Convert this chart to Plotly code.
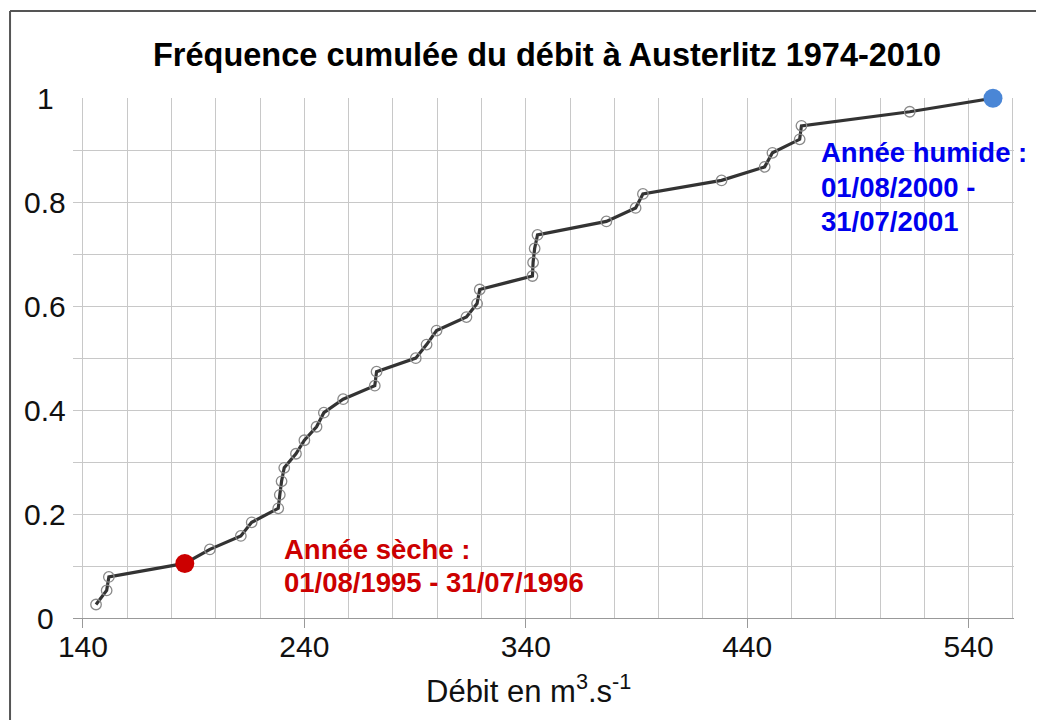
import plotly.graph_objects as go

# Data
debit = [145.9, 150.7, 151.7, 186.0, 197.3, 211.3, 216.2, 228.2, 228.9, 229.7,
         230.9, 236.2, 240.0, 245.5, 248.8, 257.5, 271.8, 272.6, 290.3, 295.2,
         299.7, 313.2, 318.0, 319.2, 343.0, 343.3, 344.0, 345.3, 376.4, 389.6,
         392.9, 428.4, 447.9, 451.4, 463.7, 464.5, 513.4, 551.0]
freq = [0.026, 0.053, 0.079, 0.105, 0.132, 0.158, 0.184, 0.211, 0.237, 0.263,
        0.289, 0.316, 0.342, 0.368, 0.395, 0.421, 0.447, 0.474, 0.500, 0.526,
        0.553, 0.579, 0.605, 0.632, 0.658, 0.684, 0.711, 0.737, 0.763, 0.789,
        0.816, 0.842, 0.868, 0.895, 0.921, 0.947, 0.974, 1.000]
dry_index = 3
wet_index = 37
x_tickvals = [140, 240, 340, 440, 540]
x_ticktext = ["140", "240", "340", "440", "540"]
y_tickvals = [0, 0.2, 0.4, 0.6, 0.8, 1]
y_ticktext = ["0", "0.2", "0.4", "0.6", "0.8", "1"]
title_text = "Fréquence cumulée du débit à Austerlitz 1974-2010"
x_title = "Débit en m<sup>3</sup>.s<sup>-1</sup>"
dry_lines = ["Année sèche :", "01/08/1995 - 31/07/1996"]
wet_lines = ["Année humide :", "01/08/2000 -", "31/07/2001"]

OFF = 8  # page body margin in the browser
W, H = 1044 - OFF, 720 - OFF
L, T = 73 - OFF, 98 - OFF
R = W - (1014.5 - OFF)
B = H - (618 - OFF)
pw = W - L - R
ph = H - T - B

def px(xp):
    return (xp - OFF - L) / pw

def py(yp):
    return (H - B - (yp - OFF)) / ph

FONT = "Liberation Sans, Arial, sans-serif"

fig = go.Figure()
fig.add_trace(go.Scatter(
    x=debit, y=freq, mode="lines+markers",
    line=dict(color="#333333", width=3.2),
    marker=dict(symbol="circle-open", size=10.5, color="#8a8a8a", line=dict(width=1.3)),
    cliponaxis=False, showlegend=False, hoverinfo="x+y"))
fig.add_trace(go.Scatter(
    x=[debit[dry_index]], y=[freq[dry_index]], mode="markers",
    marker=dict(size=19, color="#cc0000"), cliponaxis=False, showlegend=False))
fig.add_trace(go.Scatter(
    x=[debit[wet_index]], y=[freq[wet_index]], mode="markers",
    marker=dict(size=19, color="#4a86d6"), cliponaxis=False, showlegend=False))

annotations = []
for v, t in zip(y_tickvals, y_ticktext):
    annotations.append(dict(xref="paper", yref="y", x=px(45), y=v, text=t,
                            showarrow=False, xanchor="center", yanchor="middle",
                            font=dict(family=FONT, size=30, color="#111111")))
for t, yc in zip(dry_lines, [549, 582.5]):
    annotations.append(dict(xref="paper", yref="paper", x=px(282), y=py(yc),
                            text="<b>" + t + "</b>", showarrow=False,
                            xanchor="left", yanchor="middle",
                            font=dict(family=FONT, size=27.5, color="#cc0000")))
for t, yc in zip(wet_lines, [153, 187.5, 221]):
    annotations.append(dict(xref="paper", yref="paper", x=px(819), y=py(yc),
                            text="<b>" + t + "</b>", showarrow=False,
                            xanchor="left", yanchor="middle",
                            font=dict(family=FONT, size=27.5, color="#0000ee")))
annotations.append(dict(xref="paper", yref="paper", x=px(547), y=py(55),
                        text="<b>" + title_text + "</b>", showarrow=False,
                        xanchor="center", yanchor="middle",
                        font=dict(family=FONT, size=32.5, color="#000000")))
annotations.append(dict(xref="paper", yref="paper", x=px(529), y=py(689),
                        text=x_title, showarrow=False,
                        xanchor="center", yanchor="middle",
                        font=dict(family=FONT, size=31, color="#111111")))

fig.update_layout(
    width=W, height=H,
    margin=dict(l=L, r=R, t=T, b=B),
    paper_bgcolor="white", plot_bgcolor="white",
    annotations=annotations,
    shapes=[
        dict(type="line", xref="paper", yref="paper", x0=px(10), x1=px(10),
             y0=py(11), y1=py(725), line=dict(color="#555555", width=2)),
        dict(type="line", xref="paper", yref="paper", x0=px(10), x1=px(1050),
             y0=py(11), y1=py(11), line=dict(color="#555555", width=2)),
    ],
    xaxis=dict(range=[135.5, 560.5], tickmode="array", tickvals=x_tickvals,
               ticktext=x_ticktext, showgrid=True, gridcolor="#c8c8c8", gridwidth=1,
               minor=dict(dtick=20, tick0=140, showgrid=True, gridcolor="#c8c8c8", gridwidth=1),
               ticks="outside", ticklen=9, tickcolor="#999999",
               ticklabelstandoff=-7,
               showline=True, linecolor="#999999", linewidth=1, zeroline=False,
               tickfont=dict(family=FONT, size=30, color="#111111")),
    yaxis=dict(range=[0, 1.0005], tickmode="array", tickvals=y_tickvals,
               showticklabels=False, showgrid=True, gridcolor="#c8c8c8", gridwidth=1,
               minor=dict(dtick=0.1, tick0=0, showgrid=True, gridcolor="#c8c8c8", gridwidth=1),
               ticks="", zeroline=False, showline=False),
)

fig.write_html("out.html")
